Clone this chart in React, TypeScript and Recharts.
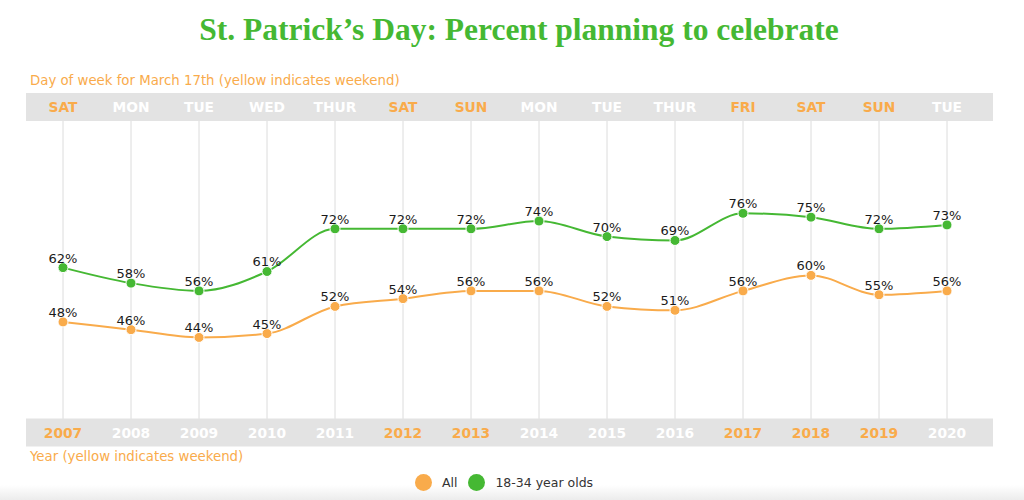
import { LineChart, Line, XAxis, YAxis, CartesianGrid, LabelList } from 'recharts';

const years = ['2007', '2008', '2009', '2010', '2011', '2012', '2013', '2014', '2015', '2016', '2017', '2018', '2019', '2020'];
const days = ['SAT', 'MON', 'TUE', 'WED', 'THUR', 'SAT', 'SUN', 'MON', 'TUE', 'THUR', 'FRI', 'SAT', 'SUN', 'TUE'];
const weekend = [true, false, false, false, false, true, true, false, false, false, true, true, true, false];
const allPct = [48, 46, 44, 45, 52, 54, 56, 56, 52, 51, 56, 60, 55, 56];
const youngPct = [62, 58, 56, 61, 72, 72, 72, 74, 70, 69, 76, 75, 72, 73];

const series = [
  { key: 'all', name: 'All', color: '#f9ab4b' },
  { key: 'young', name: '18-34 year olds', color: '#45b833' },
];

const data = years.map((y, i) => ({ year: y, all: allPct[i], young: youngPct[i] }));

const ORANGE = '#f9ab4b';
const FONT = '"DejaVu Sans", sans-serif';

// band text: weekend in orange, weekdays in white
function BandTick(props: any) {
  const { x, payload, index, top } = props;
  const i = payload?.index ?? index;
  const label = top ? days[i] : payload.value;
  return (
    <text
      x={x}
      y={top ? 107 : 432.5}
      textAnchor="middle"
      dominantBaseline="central"
      fontFamily={FONT}
      fontWeight="bold"
      fontSize={13.8}
      fill={weekend[i] ? ORANGE : '#ffffff'}
    >
      {label}
    </text>
  );
}

// only draw the grid at the category positions (no edge lines)
function gridXs(props: any) {
  try {
    const sc = props?.xAxis?.scale;
    if (!sc) return undefined as any;
    const f = typeof sc === 'function' ? sc : sc.map ? (v: string) => sc.map(v) : null;
    if (!f) return undefined as any;
    const bwFn = sc.bandwidth;
    const bw = typeof bwFn === 'function' ? bwFn.call(sc) / 2 : 0;
    const xs = years.map((y) => f(y) + bw);
    return xs.every((v) => Number.isFinite(v)) ? xs : (undefined as any);
  } catch (e) {
    return undefined as any;
  }
}

export default function App() {
  return (
    <div style={{ position: 'absolute', left: 0, top: 0, width: 1024, height: 500, background: '#fff', overflow: 'hidden' }}>
      <div style={{ position: 'absolute', left: 0, bottom: 0, width: 1024, height: 15, background: 'linear-gradient(#ffffff, #ececec)' }} />
      <div
        style={{
          position: 'absolute', left: 7, width: 1024, top: 10, textAlign: 'center',
          fontFamily: '"Liberation Serif", serif', fontWeight: 'bold', fontSize: 31.5,
          color: '#45b833', lineHeight: '40px',
        }}
      >
        St. Patrick’s Day: Percent planning to celebrate
      </div>
      <div style={{ position: 'absolute', left: 30, top: 73, fontFamily: FONT, fontSize: 13.3, color: ORANGE }}>
        Day of week for March 17th (yellow indicates weekend)
      </div>
      <div style={{ position: 'absolute', left: 30, top: 449, fontFamily: FONT, fontSize: 13.3, color: ORANGE }}>
        Year (yellow indicates weekend)
      </div>

      <div style={{ position: 'absolute', left: 0, top: 0 }}>
        <LineChart width={1024} height={500} data={data} margin={{ top: 77, right: 31, bottom: 37.5, left: 26 }}>
          <CartesianGrid
            xAxisId="bottom"
            horizontal={false}
            stroke="#dcdcdc"
            verticalCoordinatesGenerator={gridXs}
          />
          <XAxis
            xAxisId="top"
            orientation="top"
            dataKey="year"
            height={30}
            padding={{ left: 37, right: 46 }}
            interval={0}
            tickLine={false}
            axisLine={{ stroke: '#e3e3e3', strokeWidth: 28 }}
            tick={<BandTick top />}
          />
          <XAxis
            xAxisId="bottom"
            orientation="bottom"
            dataKey="year"
            height={30}
            padding={{ left: 37, right: 46 }}
            interval={0}
            tickLine={false}
            axisLine={{ stroke: '#e3e3e3', strokeWidth: 28 }}
            tick={<BandTick />}
          />
          <YAxis hide domain={[19.5, 103.4]} />
          {series.map((s) => (
            <Line
              key={s.key}
              xAxisId="bottom"
              type="monotone"
              dataKey={s.key}
              name={s.name}
              stroke={s.color}
              strokeWidth={2}
              dot={{ r: 5, fill: s.color, stroke: '#ffffff', strokeWidth: 1 }}
              activeDot={false}
              isAnimationActive={false}
            >
              <LabelList
                dataKey={s.key}
                position="top"
                offset={5}
                formatter={(v: any) => `${v}%`}
                style={{ fontFamily: FONT, fontSize: 13, fill: '#1a1a1a' }}
              />
            </Line>
          ))}
        </LineChart>
      </div>

      {/* legend */}
      <div
        style={{
          position: 'absolute', left: -8, width: 1024, top: 474, display: 'flex',
          justifyContent: 'center', alignItems: 'center', fontFamily: FONT, fontSize: 12.5, color: '#333',
        }}
      >
        {series.map((s, i) => (
          <div key={s.key} style={{ display: 'flex', alignItems: 'center', marginLeft: i ? 11 : 0 }}>
            <span style={{ width: 17, height: 17, borderRadius: '50%', background: s.color, display: 'inline-block', marginRight: 10 }} />
            <span>{s.name}</span>
          </div>
        ))}
      </div>
    </div>
  );
}
